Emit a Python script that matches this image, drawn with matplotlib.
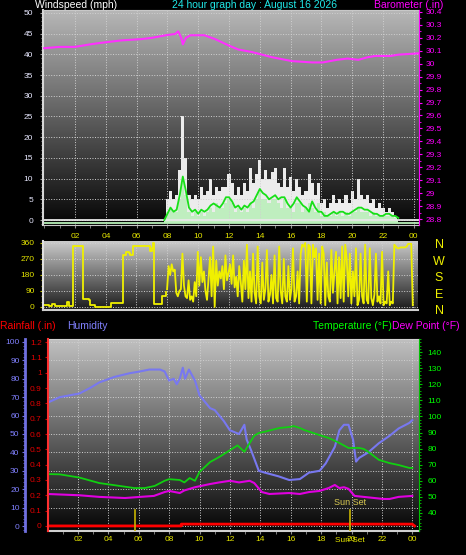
import matplotlib
matplotlib.use('Agg')
import matplotlib.pyplot as plt
import numpy as np
from matplotlib.colors import LinearSegmentedColormap
from matplotlib.ticker import MultipleLocator

plt.rcParams['font.family'] = ['Liberation Sans', 'DejaVu Sans']

# ---- data (hours of day) ----
hour_ticks = [2, 4, 6, 8, 10, 12, 14, 16, 18, 20, 22, 24]
hour_labels = ['02', '04', '06', '08', '10', '12', '14', '16', '18', '20', '22', '00']

# wind, sampled every 0.2 h starting 7.8 h
wind_start, wind_step = 7.8, 0.2
gust = [0, 5, 7, 5, 6, 12, 25, 15, 6, 5,
        6, 5, 8, 6, 7, 10, 6, 8, 7, 8,
        8, 11, 9, 6, 8, 6, 9, 7, 12.5, 9,
        11, 14.5, 10, 12, 10, 11.5, 12.5, 9, 8, 12.5,
        8, 10.5, 7, 10, 8, 6, 7, 11, 9, 6,
        9, 4, 5, 3, 4, 6, 4, 5, 4, 6,
        4, 7, 5, 10, 6, 5, 6, 4, 5, 3,
        4, 3, 2, 3, 2, 1, 0]
speed = [0, 2, 3, 2, 2, 5, 9, 6, 2, 1,
         2, 1, 2, 1, 2, 3, 2, 4, 3, 3,
         4, 5, 4, 2, 3, 2, 3, 2, 4, 3,
         5, 7, 5, 5, 4, 5, 5, 4, 3, 5,
         3, 3, 2, 4, 4, 2, 3, 4, 3, 2,
         4, 1, 2, 1, 1, 2, 1, 2, 1, 2,
         1, 2, 2, 3, 2, 2, 2, 1, 2, 1,
         1, 1, 1, 1, 1, 0.5, 0]
avg_wind = [0, 1.5, 3, 2, 2.5, 6, 10.5, 7, 3, 2,
            2.5, 1.5, 2.5, 2, 2.5, 3.5, 4, 3.5, 3, 4,
            5.5, 5.5, 4.5, 3, 3.5, 2.5, 3.5, 3, 4, 4.5,
            6, 7.5, 6.5, 6, 5, 5.5, 6, 5, 5.5, 5.5,
            4, 3, 4, 5.5, 4.5, 3.5, 3, 2, 4.5, 3,
            2, 2, 1, 1, 1.5, 2, 1.5, 2, 2, 1.5,
            1.5, 2, 2.5, 3, 3, 2.5, 2.5, 2, 1.5, 1.5,
            1, 1, 1.5, 1.5, 1, 1, 0.5]

baro_t = [0, 1, 2, 3, 3.6, 5, 6.3, 7, 7.9, 8.5, 8.7, 8.9, 9.0, 9.2, 9.5, 10.4,
          11.1, 12.0, 12.6, 13.5, 14.8, 16.1, 17.4, 18.1, 19.0, 19.7, 20.4,
          21.0, 21.5, 22.5, 23.0, 24.3]
baro = [30.12, 30.13, 30.13, 30.15, 30.16, 30.18, 30.19, 30.20, 30.22, 30.23,
        30.25, 30.20, 30.15, 30.20, 30.22, 30.22, 30.19, 30.14, 30.11, 30.09,
        30.05, 30.02, 30.01, 30.01, 30.03, 30.04, 30.03, 30.05, 30.06, 30.06,
        30.07, 30.08]

# wind direction: early part, then every 0.1 h from 8.0 h
dir0_t = [0.0, 0.3, 0.5, 0.7, 1.0, 1.4, 1.5, 1.6, 1.85, 1.9, 2.5, 2.55, 2.9, 3.0,
          3.3, 4.3, 4.35, 5.05, 5.1, 5.3, 5.5, 5.6, 5.75, 5.8, 6.8, 6.9, 7.05,
          7.1, 7.15, 7.6, 7.7, 7.9]
dir0 = [10, 5, 15, 5, 5, 5, 30, 5, 5, 345, 345, 45, 40, 10, 0, 0, 20, 20, 295,
        310, 305, 290, 315, 345, 345, 315, 330, 360, 15, 15, 60, 85]
dir_start, dir_step = 8.0, 0.1
wind_dir = [100, 230, 180, 240, 200, 210, 80, 60, 90, 100,
            300, 120, 60, 50, 150, 40, 60, 30, 140, 60,
            310, 120, 280, 140, 200, 90, 40, 160, 280, 60,
            340, 0, 260, 120, 200, 160, 230, 100, 290, 150,
            190, 240, 130, 290, 110, 170, 60, 230, 140, 30,
            260, 100, 350, 50, 200, 30, 300, 80, 20, 340,
            60, 20, 250, 40, 100, 320, 30, 70, 180, 20,
            290, 50, 30, 340, 90, 20, 270, 60, 30, 230,
            40, 100, 330, 30, 60, 200, 20, 300, 350, 340,
            360, 30, 350, 340, 20, 350, 280, 330, 40, 300,
            20, 340, 300, 10, 250, 60, 30, 320, 80, 200,
            310, 20, 280, 50, 340, 30, 350, 270, 60, 300,
            20, 200, 60, 330, 10, 40, 300, 60, 20, 350,
            40, 20, 330, 50, 10, 70, 300, 30, 60, 20,
            310, 10, 30, 20, 200, 10, 30, 20, 350, 340,
            330, 330, 335, 335, 335, 335, 340, 355, 355, 355,
            10]

hum_t = [0, 0.8, 2.1, 2.8, 3.4, 4.4, 5.4, 6.1, 6.7, 7.4, 7.7, 8.0, 8.3, 8.5, 8.7,
         8.9, 9.05, 9.3, 9.7, 10.0, 10.3, 10.7, 11.0, 11.3, 11.6, 12.0, 12.6,
         12.95, 13.1, 13.4, 13.9, 14.3, 15.2, 15.9, 16.6, 17.2, 17.9, 18.3, 18.9,
         19.2, 19.5, 19.8, 20.1, 20.3, 20.5, 21.1, 21.8, 22.5, 23.1, 23.8, 24.0]
humidity = [67, 70, 72, 75, 78, 81, 83, 84, 85, 85, 84, 79, 80, 77, 80, 86, 80,
            85, 79, 71, 68, 64, 63, 60, 57, 52, 50, 55, 47, 41, 30, 29, 27, 25,
            25.5, 29, 30, 34, 43, 52, 55, 55, 47, 35, 37, 40, 45, 49, 53, 56, 57.5]

temp_t = [0, 0.8, 2.1, 3.4, 4.75, 5.7, 6.4, 7.05, 7.7, 8.0, 8.7, 9.0, 9.35, 9.7,
          10.0, 10.7, 11.3, 12.0, 12.5, 12.95, 13.3, 13.6, 13.9, 14.3, 15.25,
          15.9, 16.2, 16.6, 16.9, 17.9, 18.5, 19.2, 19.8, 20.5, 20.8, 21.1, 21.8,
          22.5, 23.1, 23.8, 24.0]
temperature = [64.2, 64, 62, 58.6, 56.8, 55.5, 55.5, 56.8, 60, 61, 60.5, 59,
               61.7, 60, 65.5, 71.7, 74.8, 79, 82, 78, 83.5, 88, 89.7, 90.5,
               92.8, 93.4, 94, 92.8, 91.5, 88.4, 86.6, 83.5, 80.4, 80.4, 79.8,
               78, 73, 71, 69.8, 68, 68]

dew_t = [0, 2.1, 3.4, 5.1, 6.1, 7.0, 7.7, 8.0, 8.7, 9.0, 9.7, 10.7, 11.3, 12.0,
         12.6, 13.3, 13.6, 14.1, 14.6, 15.9, 16.6, 17.2, 17.9, 18.5, 18.9, 19.2,
         19.5, 19.8, 20.2, 20.8, 21.5, 22.1, 22.5, 23.1, 24.0]
dew_point = [51.8, 51, 50, 49.3, 50, 50.6, 53, 53.7, 52.4, 54, 56, 58, 59, 60,
             59, 60, 58.6, 53, 51.8, 52.4, 51.8, 53, 53.7, 55.5, 57.4, 55.5, 56,
             55, 50.6, 50, 49.3, 48.7, 48.7, 50, 50.6]

rain_t = [0, 8.8, 8.8, 24.0, 24.15]
rainfall = [0, 0, 0.012, 0.012, 0]

sunrise, sunset = 5.78, 19.9

# ---- figure ----
W, H = 466, 555
fig = plt.figure(figsize=(W / 100, H / 100), dpi=100, facecolor='black')


def rect(l, t, r, b):
    return [l / W, 1 - b / H, (r - l) / W, (b - t) / H]


def gradient(r, top, bottom):
    bg = fig.add_axes(r)
    cmap = LinearSegmentedColormap.from_list('bg', [bottom, top])
    bg.imshow(np.linspace(1, 0, 256)[:, None], aspect='auto', cmap=cmap,
              extent=[0, 1, 0, 1])
    bg.set_axis_off()
    return bg


def clean(ax):
    ax.set_facecolor('none')
    for s in ax.spines.values():
        s.set_visible(False)


TICK = '#e6e600'

# ---------- panel 1: wind speed + barometer ----------
r1 = rect(43, 10, 419, 225)
gradient(r1, '#b8b8b8', '#050505')
ax1 = fig.add_axes(r1)
clean(ax1)
ax1.set_xlim(-0.08, 24.34)
ax1.set_ylim(-1.2, 50.7)
wt = wind_start + wind_step * np.arange(len(gust))
ax1.axhline(0, color='#e8e8e8', lw=1.3)
ax1.axhline(-0.8, color='#b8f0b8', lw=1.3)
ax1.fill_between(wt, gust, 0, step='mid', color='#ececec', lw=0)
ax1.fill_between(wt, speed, -0.8, step='mid', color='#bfeebf', lw=0)
ax1.plot(wt, avg_wind, color='#18e018', lw=1.3)
ax1.grid(True, color='#d0d0d0', ls=':', lw=0.7)
ax1.yaxis.set_major_locator(MultipleLocator(5))
ax1.yaxis.set_minor_locator(MultipleLocator(1))
ax1.set_xticks(hour_ticks, hour_labels)
ax1.xaxis.set_minor_locator(MultipleLocator(1))
ax1.tick_params(axis='y', which='both', colors='#a0a0a0', labelcolor='#e8e8ff',
                labelsize=6, pad=4.5, length=2.5)
ax1.tick_params(axis='y', which='minor', length=1.5)
ax1.tick_params(axis='x', which='both', colors='#909090', labelcolor=TICK,
                labelsize=6, pad=4, length=2)
ax1.spines['left'].set_visible(True)
ax1.spines['left'].set_color('#d8d8d8')
ax1.spines['left'].set_linewidth(1.5)
ax1.spines['bottom'].set_visible(True)
ax1.spines['bottom'].set_color('#c8c8c8')
ax1.spines['top'].set_visible(True)
ax1.spines['top'].set_color('#c8c8c8')

ax1b = fig.add_axes(r1, sharex=ax1)
clean(ax1b)
ax1b.plot(baro_t, baro, color='#ff30ff', lw=1.5)
ax1b.set_ylim(28.754, 30.415)
ax1b.yaxis.tick_right()
ax1b.yaxis.set_major_locator(MultipleLocator(0.1))
ax1b.yaxis.set_minor_locator(MultipleLocator(0.05))
ax1b.yaxis.set_major_formatter(lambda v, p: f'{v:.1f}'.rstrip('0').rstrip('.') if abs(v - round(v)) < 1e-6 else f'{v:.1f}')
ax1b.tick_params(axis='y', which='both', colors='#ff00ff', labelsize=6, pad=2.5,
                 length=2.5)
ax1b.tick_params(axis='y', which='minor', length=1.5)
ax1b.tick_params(axis='x', which='both', bottom=False, labelbottom=False)
ax1b.spines['right'].set_visible(True)
ax1b.spines['right'].set_color('#ff00ff')

fig.text(35 / W, 1 - 5 / H, 'Windspeed (mph)', color='white', fontsize=7.5,
         va='center', ha='left')
fig.text(172 / W, 1 - 5 / H, '24 hour graph day : August 16 2026', color='#20e8e8',
         fontsize=7.5, va='center', ha='left')
fig.text(443 / W, 1 - 4.5 / H, 'Barometer (.in)', color='#ff00ff', fontsize=7.5,
         va='center', ha='right')

# ---------- panel 2: wind direction ----------
r2 = rect(43, 241, 418, 310)
gradient(r2, '#cccccc', '#1a1a1a')
ax2 = fig.add_axes(r2, sharex=ax1)
clean(ax2)
ax2.set_ylim(-17, 371)
dt = dir_start + dir_step * np.arange(len(wind_dir))
ax2.plot(dir0_t, dir0, color='#f0f000', lw=1.3, drawstyle='steps-post')
ax2.plot(dt, wind_dir, color='#f0f000', lw=1.3)
ax2.set_yticks([0, 90, 180, 270, 360])
ax2.yaxis.set_minor_locator(MultipleLocator(30))
ax2.grid(True, color='#d0d0d0', ls=':', lw=0.7)
ax2.tick_params(axis='y', which='both', colors='#c0c000', labelcolor=TICK,
                labelsize=6, pad=3.5, length=2.5)
ax2.tick_params(axis='y', which='minor', length=1.5)
ax2.tick_params(axis='x', which='both', bottom=False, labelbottom=False)
ax2.spines['left'].set_visible(True)
ax2.spines['left'].set_color('#e0e0e0')
ax2.spines['left'].set_linewidth(1.5)
ax2.spines['bottom'].set_visible(True)
ax2.spines['bottom'].set_color('#d0d0d0')
ax2.spines['bottom'].set_linewidth(1.5)

for lab, y in zip(['N', 'W', 'S', 'E', 'N'], [245, 262, 278, 295, 311]):
    fig.text(439 / W, 1 - y / H, lab, color='#f0f000', fontsize=9,
             ha='center', va='center')

# ---------- panel 3: rain / humidity / temperature ----------
r3 = rect(48, 339, 419, 531)
gradient(r3, '#c0c0c0', '#050505')

axh = fig.add_axes(r3)
clean(axh)
axh.set_xlim(0.03, 24.44)
axh.set_ylim(-2.7, 101.6)
axh.plot(hum_t, humidity, color='#7878f0', lw=1.5)
axh.set_yticks(range(0, 101, 10))
axh.yaxis.set_minor_locator(MultipleLocator(2))
axh.grid(True, color='#d0d0d0', ls=':', lw=0.7)
axh.set_xticks(hour_ticks, hour_labels)
axh.xaxis.set_minor_locator(MultipleLocator(1))
axh.spines['left'].set_visible(True)
axh.spines['left'].set_position(('outward', 16.5))
axh.spines['left'].set_color('#7070e0')
axh.spines['left'].set_linewidth(2)
axh.tick_params(axis='y', which='both', colors='#7070e0', labelcolor='#8080ff',
                labelsize=6, pad=1.5, length=2.5)
axh.tick_params(axis='y', which='minor', length=1.5)
axh.tick_params(axis='x', which='both', colors='#909090', labelcolor=TICK,
                labelsize=6, pad=1.8, length=2)
axh.spines['bottom'].set_visible(True)
axh.spines['bottom'].set_color('#d0d0d0')
axh.spines['bottom'].set_linewidth(1.5)
axh.spines['top'].set_visible(True)
axh.spines['top'].set_color('#d0d0d0')

axt = fig.add_axes(r3, sharex=axh)
clean(axt)
axt.set_ylim(28.8, 148.1)
axt.plot(temp_t, temperature, color='#10d010', lw=1.3)
axt.plot(dew_t, dew_point, color='#e000e0', lw=1.5)
axt.yaxis.tick_right()
axt.set_yticks(range(40, 141, 10))
axt.yaxis.set_minor_locator(MultipleLocator(2))
axt.tick_params(axis='y', which='both', colors='#00c000', labelcolor='#00ff00',
                labelsize=6, pad=3.5, length=2.5)
axt.tick_params(axis='y', which='minor', length=1.5)
axt.tick_params(axis='x', which='both', bottom=False, labelbottom=False)
axt.spines['right'].set_visible(True)
axt.spines['right'].set_color('#00c000')

axr = fig.add_axes(r3, sharex=axh)
clean(axr)
axr.set_ylim(-0.033, 1.22)
axr.plot(rain_t, rainfall, color='#ff0000', lw=2)
axr.set_yticks(np.round(np.arange(0, 1.21, 0.1), 1))
axr.yaxis.set_major_formatter(lambda v, p: f'{v:g}')
axr.yaxis.set_minor_locator(MultipleLocator(0.05))
axr.tick_params(axis='y', which='both', colors='#d00000', labelcolor='#e00000',
                labelsize=6, pad=2.5, length=2)
axr.tick_params(axis='y', which='minor', length=1)
axr.tick_params(axis='x', which='both', bottom=False, labelbottom=False)
axr.spines['left'].set_visible(True)
axr.spines['left'].set_color('#ff3030')
axr.spines['left'].set_linestyle((0, (1, 1)))
axr.spines['left'].set_linewidth(1.5)
axr.axvline(sunrise, ymin=0, ymax=0.11, color='#c8b400', lw=1.2)
axr.axvline(sunset, ymin=0, ymax=0.11, color='#c8b400', lw=1.2)
axr.text(sunset, 0.125, 'Sun Set', transform=axr.get_xaxis_transform(),
         color='#d8c850', fontsize=6.5, ha='center', va='bottom')
# the original draws the sunset label across the "20" tick label
fig.text(350 / W, 1 - 540 / H, 'Sun Set', color=TICK, fontsize=6,
         ha='center', va='center')

fig.text(0 / W, 1 - 326 / H, 'Rainfall (.in)', color='#ff0000', fontsize=7.5,
         va='center', ha='left')
fig.text(67 / W, 1 - 326 / H, 'Humidity', color='#8080ff', fontsize=7.5,
         va='center', ha='left')
fig.text(313 / W, 1 - 326 / H, 'Temperature (°F)', color='#00ff00', fontsize=7.5,
         va='center', ha='left')
fig.text(392 / W, 1 - 326 / H, 'Dew Point (°F)', color='#ff00ff', fontsize=7.5,
         va='center', ha='left')

fig.savefig('out.png', dpi=100, facecolor='black')
